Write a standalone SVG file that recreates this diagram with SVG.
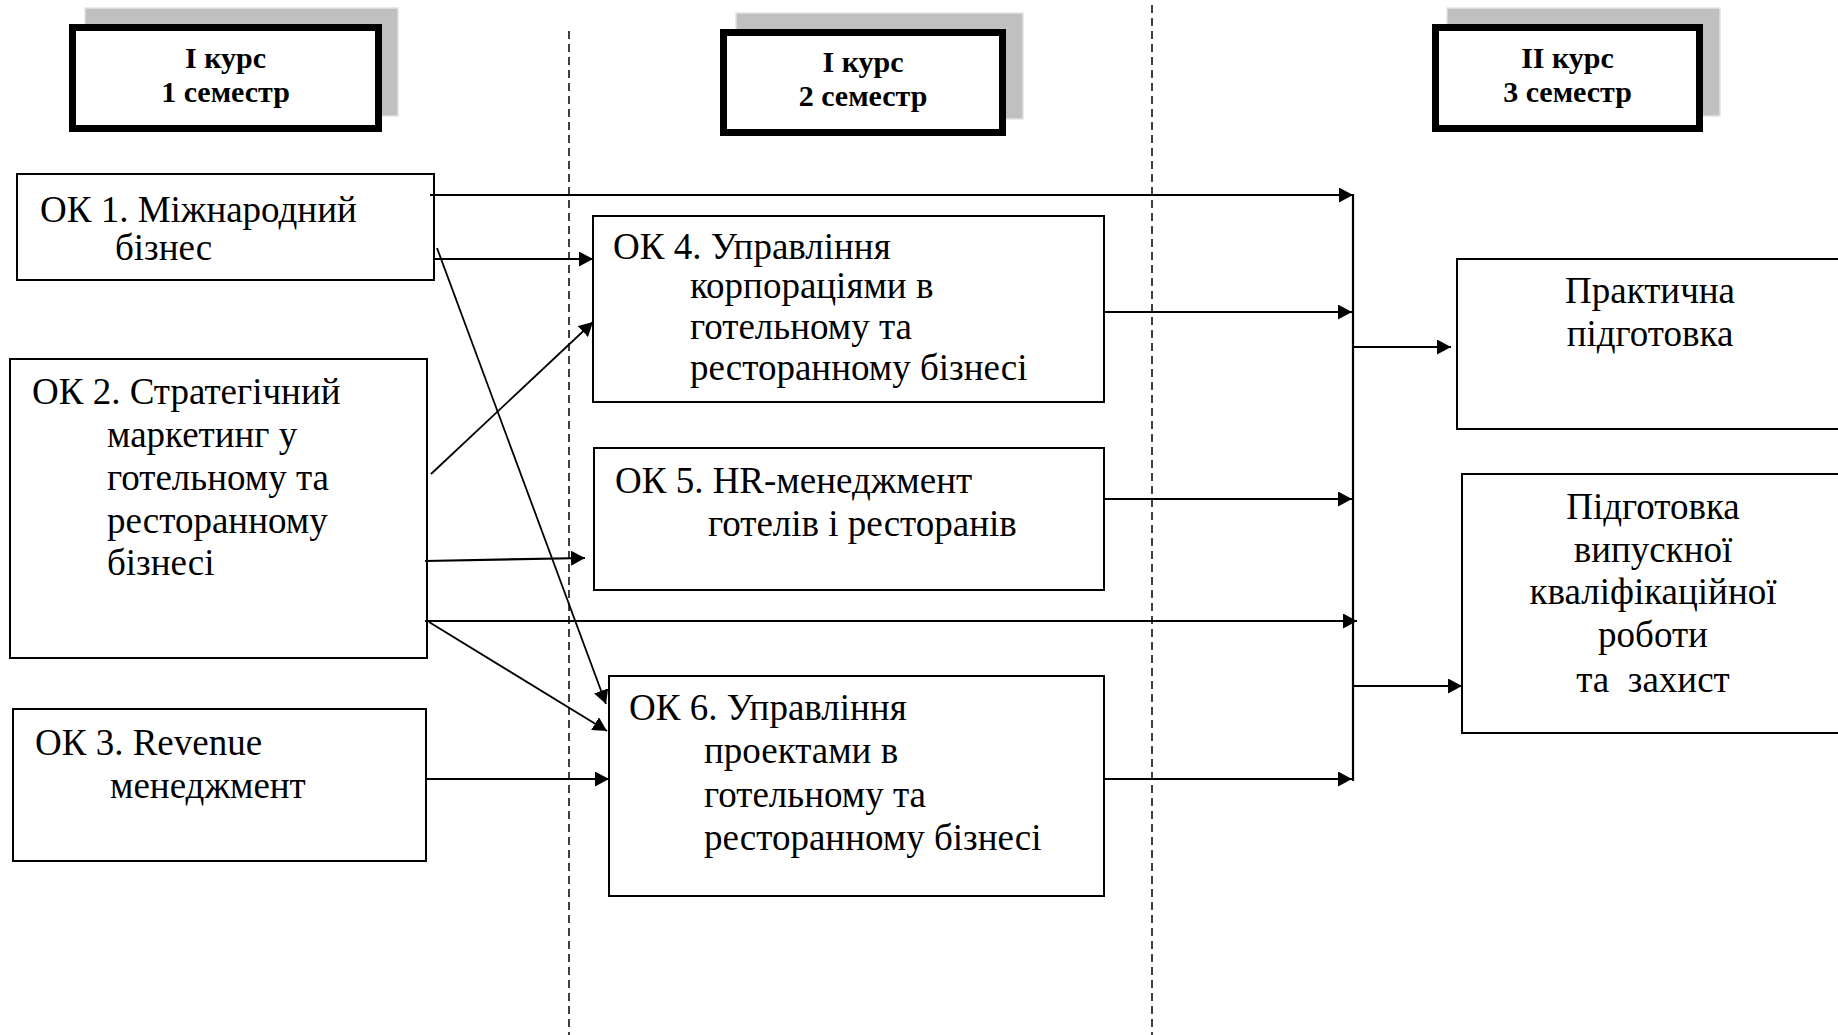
<svg xmlns="http://www.w3.org/2000/svg" width="1838" height="1035" viewBox="0 0 1838 1035">
<style>
.bg{fill:#ffffff}
.box{fill:#ffffff;stroke:#000;stroke-width:2}
.hdr{fill:#ffffff;stroke:#000;stroke-width:7}
.shadow{fill:#c0c0c0;stroke:#e2e2e2;stroke-width:1.5}
.t{font-family:"Liberation Serif","Times New Roman",serif;font-size:37px;fill:#000}
.h{font-family:"Liberation Serif","Times New Roman",serif;font-size:30px;font-weight:bold;fill:#000;text-anchor:middle}
.c{text-anchor:middle}
.ln{stroke:#000;stroke-width:2.2;fill:none}
.dg{stroke:#000;stroke-width:1.8;fill:none}
.dash{stroke:#000;stroke-width:1.5;stroke-dasharray:8 5;fill:none}
</style>
<defs>
<marker id="ah" markerUnits="userSpaceOnUse" markerWidth="15" markerHeight="15" refX="14" refY="7.5" orient="auto">
<path d="M0,0 L14,7.5 L0,15 z" fill="#000"/>
</marker>
</defs>
<rect class="bg" x="0" y="0" width="1838" height="1035"/>

<g id="guides">
<line class="dash" x1="569" y1="31" x2="569" y2="1035"/>
<line class="dash" x1="1152" y1="5" x2="1152" y2="1035"/>
</g>

<g id="header1">
<rect class="shadow" x="85" y="8" width="313" height="108"/>
<rect class="hdr" x="72.5" y="27.5" width="306" height="101"/>
<text class="h" x="225.5" y="68">I курс</text>
<text class="h" x="225.5" y="102">1 семестр</text>
</g>
<g id="header2">
<rect class="shadow" x="736" y="13" width="287" height="106"/>
<rect class="hdr" x="723.5" y="32.5" width="279" height="100"/>
<text class="h" x="863" y="72">I курс</text>
<text class="h" x="863" y="106">2 семестр</text>
</g>
<g id="header3">
<rect class="shadow" x="1447" y="8" width="273" height="108"/>
<rect class="hdr" x="1435.5" y="27.5" width="264" height="101"/>
<text class="h" x="1567.5" y="68">II курс</text>
<text class="h" x="1567.5" y="102">3 семестр</text>
</g>

<g id="ok1">
<rect class="box" x="17" y="174" width="417" height="106"/>
<text class="t"><tspan x="40" y="222">ОК 1. Міжнародний</tspan><tspan x="115" y="260">бізнес</tspan></text>
</g>
<g id="ok2">
<rect class="box" x="10" y="359" width="417" height="299"/>
<text class="t"><tspan x="32" y="404">ОК 2. Стратегічний</tspan><tspan x="107" y="447">маркетинг у</tspan><tspan x="107" y="490">готельному та</tspan><tspan x="107" y="533">ресторанному</tspan><tspan x="107" y="575">бізнесі</tspan></text>
</g>
<g id="ok3">
<rect class="box" x="13" y="709" width="413" height="152"/>
<text class="t"><tspan x="35" y="755">ОК 3. Revenue</tspan><tspan x="110" y="798">менеджмент</tspan></text>
</g>
<g id="ok4">
<rect class="box" x="593" y="216" width="511" height="186"/>
<text class="t"><tspan x="613" y="259">ОК 4. Управління</tspan><tspan x="690" y="298">корпораціями в</tspan><tspan x="690" y="339">готельному та</tspan><tspan x="690" y="380">ресторанному бізнесі</tspan></text>
</g>
<g id="ok5">
<rect class="box" x="594" y="448" width="510" height="142"/>
<text class="t"><tspan x="615" y="493">ОК 5. HR-менеджмент</tspan><tspan x="708" y="536">готелів і ресторанів</tspan></text>
</g>
<g id="ok6">
<rect class="box" x="609" y="676" width="495" height="220"/>
<text class="t"><tspan x="629" y="720">ОК 6. Управління</tspan><tspan x="704" y="763">проектами в</tspan><tspan x="704" y="807">готельному та</tspan><tspan x="704" y="850">ресторанному бізнесі</tspan></text>
</g>
<g id="practice">
<rect class="box" x="1457" y="259" width="400" height="170"/>
<text class="t c"><tspan x="1650" y="303">Практична</tspan><tspan x="1650" y="346">підготовка</tspan></text>
</g>
<g id="thesis">
<rect class="box" x="1462" y="474" width="400" height="259"/>
<text class="t c" style="white-space:pre"><tspan x="1653" y="519">Підготовка</tspan><tspan x="1653" y="562">випускної</tspan><tspan x="1653" y="604">кваліфікаційної</tspan><tspan x="1653" y="647">роботи</tspan><tspan x="1653" y="692">та  захист</tspan></text>
</g>

<g id="connectors">
<line class="ln" x1="1353" y1="194" x2="1353" y2="781"/>
<line class="ln" x1="430" y1="195" x2="1353" y2="195" marker-end="url(#ah)"/>
<line class="ln" x1="435" y1="259" x2="593" y2="259" marker-end="url(#ah)"/>
<line class="dg" x1="437" y1="248" x2="606" y2="704" marker-end="url(#ah)"/>
<line class="dg" x1="431" y1="474" x2="593" y2="322" marker-end="url(#ah)"/>
<line class="ln" x1="425" y1="561" x2="585" y2="558" marker-end="url(#ah)"/>
<line class="ln" x1="425" y1="621" x2="1357" y2="621" marker-end="url(#ah)"/>
<line class="dg" x1="429" y1="622" x2="607" y2="731" marker-end="url(#ah)"/>
<line class="ln" x1="426" y1="779" x2="609" y2="779" marker-end="url(#ah)"/>
<line class="ln" x1="1104" y1="312" x2="1352" y2="312" marker-end="url(#ah)"/>
<line class="ln" x1="1104" y1="499" x2="1352" y2="499" marker-end="url(#ah)"/>
<line class="ln" x1="1104" y1="779" x2="1352" y2="779" marker-end="url(#ah)"/>
<line class="ln" x1="1353" y1="347" x2="1451" y2="347" marker-end="url(#ah)"/>
<line class="ln" x1="1353" y1="686" x2="1462" y2="686" marker-end="url(#ah)"/>
</g>
</svg>
